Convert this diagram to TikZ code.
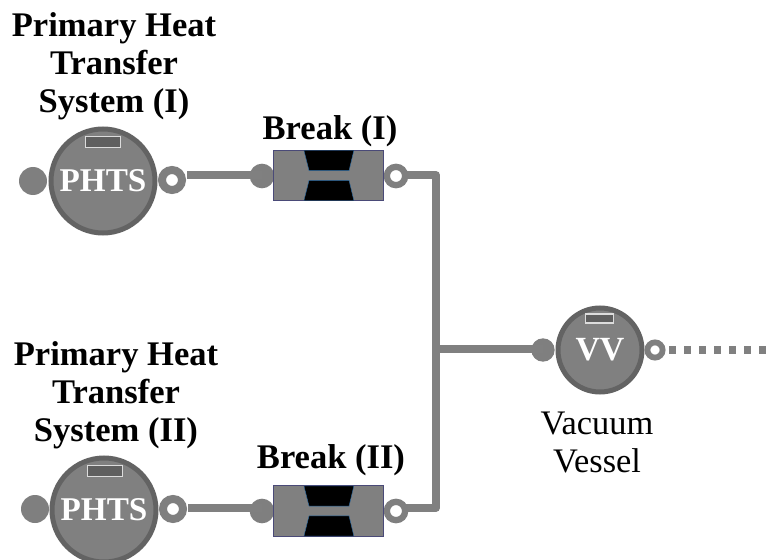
\documentclass[tikz,border=0pt]{standalone}
\usepackage{fontspec}
\setmainfont{Liberation Serif}
\definecolor{gport}{HTML}{7F7F7F}
\definecolor{gring}{HTML}{636363}
\definecolor{gline}{HTML}{808080}
\definecolor{gtag}{HTML}{5F5F5F}
\definecolor{gtagb}{HTML}{DCDCDC}
\definecolor{bedge}{HTML}{4A4A78}
\definecolor{tedge}{HTML}{2F6FA8}
\tikzset{
  vessel/.style={circle,draw=gring,line width=3.75pt,fill=gline,inner sep=0pt,text=white,font=\bfseries\fontsize{24.9}{24.9}\selectfont},
  inport/.style={circle,fill=gport,inner sep=0pt,minimum size=#1},
  outport/.style={circle,draw=gport,fill=white,inner sep=0pt,minimum size=#1},
  tag/.style={draw=gtagb,fill=gtag,line width=1.1pt,inner sep=0pt},
  pipe/.style={draw=gline,line width=5.7pt},
  breakbox/.style={draw=bedge,fill=gline,line width=.6pt,inner sep=0pt,minimum width=83pt,minimum height=38pt},
  throat/.style={fill=black,draw=tedge,line width=.3pt},
  boldlabel/.style={align=center,font=\bfseries\fontsize{25.9}{28.5}\selectfont,inner sep=0pt},
  plainlabel/.style={align=center,font=\fontsize{25.8}{28.5}\selectfont,inner sep=0pt},
  dotpipe/.style={draw=gline,line width=5.4pt,dash pattern=on 5.4pt off 5.85pt}
}
\begin{document}
\begin{tikzpicture}[x=0.75pt,y=-0.75pt]
\useasboundingbox (0,0) rectangle (772,560);
% connectors anchors
\coordinate (s1) at (187,175);
\coordinate (s2) at (188,508);
\coordinate (t1) at (436,175);
\coordinate (t2) at (436,508);
\coordinate (tm) at (436,349);
\coordinate (dotstart) at (669,350);
\coordinate (dotend) at (767,350);
% ports
\node[inport=21pt] (a1) at (33,181) {};
\node[inport=21pt] (a2) at (35,509) {};
\node[inport=18.5pt] (b1l) at (262,176) {};
\node[inport=18.5pt] (b2l) at (262,511) {};
\node[inport=17.5pt] (vl) at (543,350) {};
% pipes
\draw[pipe] (s1) -- (s1 -| b1l);
\draw[pipe] (s2) -- (s2 -| b2l);
\draw[pipe,line join=round] (396,175) -- (t1) -- (t2) -- (396,508);
\draw[pipe] (tm) -- (tm -| vl);
\draw[dotpipe] (dotstart) -- (dotend);
% vessels
\node[vessel,minimum size=78pt] (p1) at (103,181) {PHTS};
\node[vessel,minimum size=78pt] (p2) at (104,510) {PHTS};
\node[vessel,minimum size=63pt,font=\bfseries\fontsize{25.4}{25.4}\selectfont] (vv) at (600,350) {VV};
\node[tag,minimum width=26pt,minimum height=8pt] (tg1) at (103,142) {};
\node[tag,minimum width=26pt,minimum height=8pt] (tg2) at (105,471) {};
\node[tag,minimum width=21pt,minimum height=7pt] (tg3) at (599.5,318.5) {};
% outlet ports
\node[outport=15pt,line width=6pt] (o1) at (172,180) {};
\node[outport=15pt,line width=6pt] (o2) at (173,509) {};
\node[outport=13.75pt,line width=4.75pt] (o3) at (396,176) {};
\node[outport=13.75pt,line width=4.75pt] (o4) at (396,511) {};
\node[outport=11.4pt,line width=4.4pt] (o5) at (655,350) {};
% breaks
\node[breakbox] (b1) at (328.5,175.5) {};
\node[breakbox] (b2) at (328.5,511) {};
\foreach \c in {b1,b2}{
  \path[throat] ([xshift=-18.4pt,yshift=18.75pt]\c.center) -- ([xshift=19pt,yshift=18.75pt]\c.center) -- ([xshift=15.4pt,yshift=3.7pt]\c.center) -- ([xshift=-14.6pt,yshift=3.7pt]\c.center) -- cycle;
  \path[throat] ([xshift=-18.4pt,yshift=-18.75pt]\c.center) -- ([xshift=19pt,yshift=-18.75pt]\c.center) -- ([xshift=15.4pt,yshift=-3.7pt]\c.center) -- ([xshift=-14.6pt,yshift=-3.7pt]\c.center) -- cycle;
}
% labels
\node[boldlabel] (lp1) at (114,66) {Primary Heat\\Transfer\\System (I)};
\node[boldlabel] (lp2) at (116,395) {Primary Heat\\Transfer\\System (II)};
\node[boldlabel] (lb1) at (330,131) {Break (I)};
\node[boldlabel] (lb2) at (331,460) {Break (II)};
\node[plainlabel] (lv) at (597,442) {Vacuum\\Vessel};
\end{tikzpicture}
\end{document}
